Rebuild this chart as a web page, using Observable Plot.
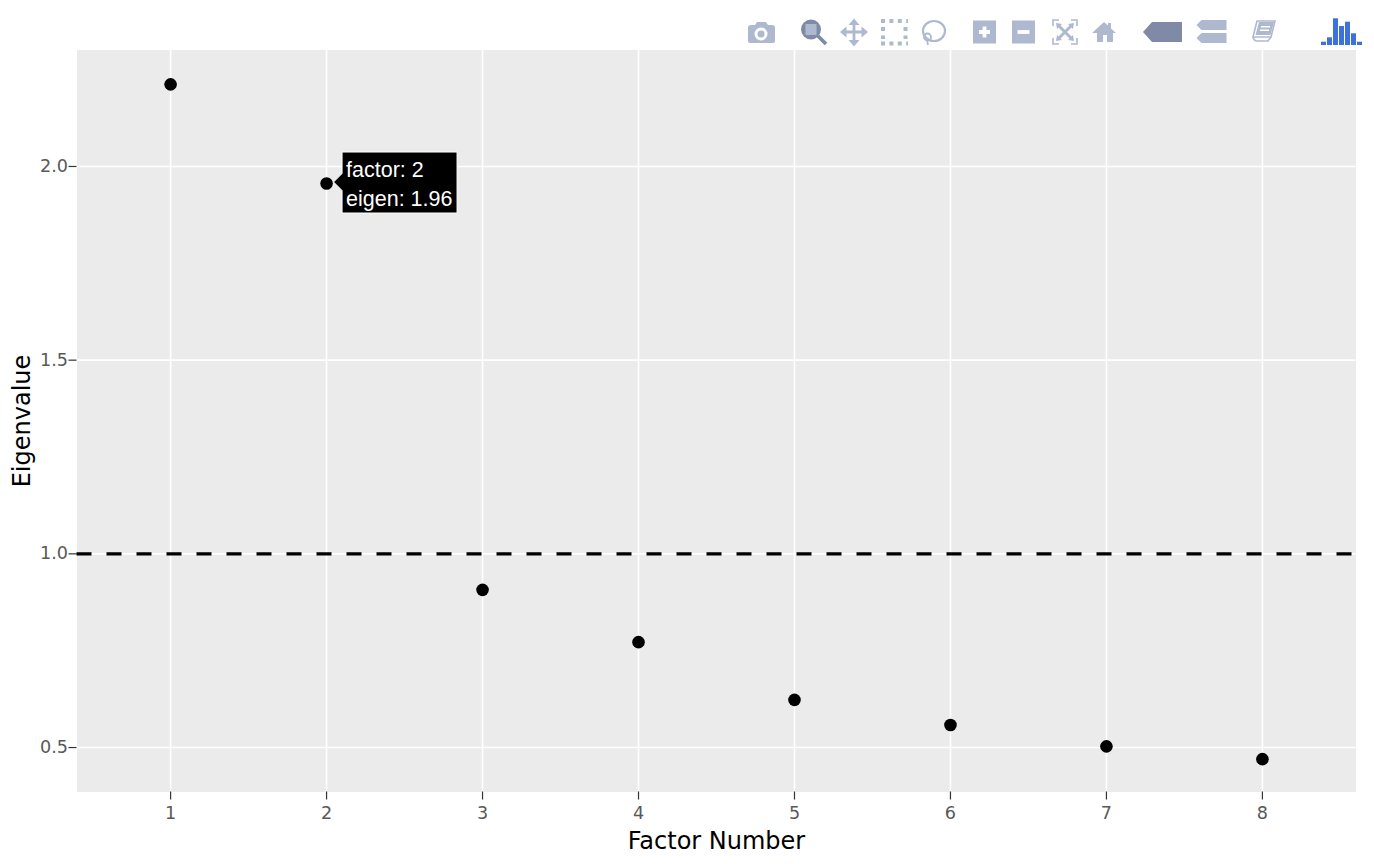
<!DOCTYPE html>
<html>
<head>
<meta charset="utf-8">
<script src="https://cdn.jsdelivr.net/npm/d3@7"></script>
<script src="https://cdn.jsdelivr.net/npm/@observablehq/plot@0.6"></script>
<style>
html,body{margin:0;padding:0;background:#fff;overflow:hidden}
#wrap{position:relative;width:1374px;height:864px}
#bar{position:absolute;left:0;top:0}
</style>
</head>
<body>
<div id="wrap"></div>
<script>
const factors = [1, 2, 3, 4, 5, 6, 7, 8];
const eigenvalues = [2.212, 1.956, 0.907, 0.772, 0.623, 0.558, 0.503, 0.47];
const yTicks = [0.5, 1.0, 1.5, 2.0];
const threshold = 1;
const xLabel = "Factor Number";
const yLabel = "Eigenvalue";
const hovered = 1;
const rows = factors.map((f, i) => ({factor: f, eigen: eigenvalues[i]}));

function tooltip(index, scales) {
  const g = d3.create("svg:g");
  const px = scales.x(rows[hovered].factor), py = scales.y(rows[hovered].eigen);
  g.append("path")
    .attr("d", `M${px + 16} ${py - 31}h115v61h-115v-22.500l-8.500 -8.500l8.500 -8.500z`)
    .attr("fill", "#000").attr("stroke", "#fff").attr("stroke-width", 1);
  const t = g.append("text").attr("fill", "#fff").attr("text-anchor", "start")
    .attr("font-family", "Liberation Sans, Arial, sans-serif").attr("font-size", 21.5);
  t.append("tspan").attr("x", px + 20).attr("y", py - 6.5).text(`factor: ${rows[hovered].factor}`);
  t.append("tspan").attr("x", px + 20).attr("y", py + 22.5).text(`eigen: ${rows[hovered].eigen.toFixed(2)}`);
  return g.node();
}

const chart = Plot.plot({
  width: 1374, height: 864,
  marginLeft: 76.5, marginRight: 18.5, marginTop: 49.5, marginBottom: 72.5,
  style: {background: "#fff", fontFamily: "DejaVu Sans, Verdana, sans-serif", overflow: "visible"},
  x: {domain: [0.4, 8.6], ticks: factors, label: null},
  y: {domain: [0.3852, 2.3007], ticks: yTicks, label: null},
  marks: [
    Plot.frame({fill: "#EBEBEB", stroke: null}),
    Plot.gridX(factors, {stroke: "#fff", strokeOpacity: 1, strokeWidth: 1.6}),
    Plot.gridY(yTicks, {stroke: "#fff", strokeOpacity: 1, strokeWidth: 1.6}),
    Plot.axisX(factors, {tickSize: 8, tickPadding: 6, stroke: "#333", strokeWidth: 1.2, fill: "#595959", fontSize: 17.6, tickFormat: d => d, label: null, marginBottom: 72.5}),
    Plot.axisY(yTicks, {tickSize: 8, tickPadding: 1, stroke: "#333", strokeWidth: 1.2, fill: "#595959", fontSize: 17.6, tickFormat: d => d.toFixed(1), label: null, marginLeft: 76.5}),
    Plot.ruleY([threshold], {stroke: "#000", strokeWidth: 3.2, strokeDasharray: "15,15"}),
    Plot.dot(rows, {x: "factor", y: "eigen", r: 6.3, fill: "#000", stroke: null}),
    tooltip
  ]
});
document.getElementById("wrap").appendChild(chart);

// axis titles
const svg = d3.select(chart);
svg.append("text").attr("x", 716.500).attr("y", 849).attr("text-anchor", "middle")
  .attr("font-family", "DejaVu Sans, Verdana, sans-serif").attr("font-size", 24).attr("fill", "#000").text(xLabel);
svg.append("text").attr("transform", "translate(30,421) rotate(-90)").attr("text-anchor", "middle")
  .attr("font-family", "DejaVu Sans, Verdana, sans-serif").attr("font-size", 24).attr("fill", "#000").text(yLabel);

// modebar chrome
const c = "#AEB9D0", a = "#7F8AA6", blue = "#3D72DB";
const logoHeights = [3.3, 7.7, 26.7, 19, 23.3, 11.7, 3.3];
const bars = logoHeights.map((h, i) => `<rect x="${1321 + i * 6}" y="${45 - h}" width="5" height="${h}" fill="${blue}"/>`).join("");
document.getElementById("wrap").insertAdjacentHTML("beforeend", `
<svg id="bar" width="1374" height="50" xmlns="http://www.w3.org/2000/svg">
<path fill="${c}" d="M748 28q0-3 3-3h4l2-3h9l2 3h4q3 0 3 3v13q0 2-3 2h-21q-3 0-3-2z"/><circle cx="761" cy="34" r="6.500" fill="#fff"/><circle cx="761" cy="34" r="3.500" fill="${c}"/>
<circle cx="811" cy="29.500" r="10" fill="${a}"/><rect x="805.500" y="24" width="11" height="11" fill="${c}"/><path d="M818 36l8 8" stroke="${a}" stroke-width="3.800"/>
<path fill="none" stroke="${c}" stroke-width="2.800" d="M842 32h24M854 21v23"/><path fill="${c}" d="M854 18.500l5.500 6.500h-11zM854 46.500l5.500-6.500h-11zM840 32l6.500-5.500v11zM868 32l-6.500-5.500v11z"/>
<path fill="none" stroke="${c}" stroke-width="4" stroke-dasharray="4,4.400" d="M881 21h27M881 43.500h27"/><path fill="none" stroke="${c}" stroke-width="4" stroke-dasharray="4,4.400" d="M883 27v12M905.500 27v12"/>
<ellipse cx="934" cy="31" rx="11" ry="10" fill="none" stroke="${c}" stroke-width="2.200"/><circle cx="927.500" cy="37" r="3.500" fill="none" stroke="${c}" stroke-width="1.800"/><path d="M927 40l1 5" stroke="${c}" stroke-width="1.800"/>
<rect x="973" y="20.500" width="23" height="23" fill="${c}"/><path d="M979 32h11M984.500 26.500v11" stroke="#fff" stroke-width="3.800"/>
<rect x="1012" y="20.500" width="23" height="23" fill="${c}"/><path d="M1017.500 32h12" stroke="#fff" stroke-width="3.800"/>
<path fill="none" stroke="${c}" stroke-width="1.600" d="M1053 26v-6h6M1071 20h6v6M1077 38v6h-6M1059 44h-6v-6"/><path fill="none" stroke="${c}" stroke-width="3" d="M1059 26l12 12M1071 26l-12 12"/><path fill="${c}" d="M1056 23l6 1-5 5zM1074 23l-6 1 5 5zM1056 41l6-1-5-5zM1074 41l-6-1 5-5z"/>
<path fill="${c}" d="M1092 33l12-11 4 3.500v-2.500h3v5.500l5 4.500h-3v9h-6v-7h-4v7h-6v-9z"/>
<path fill="${a}" d="M1143 32l9-10h30v20h-30z"/>
<path fill="${c}" d="M1196.500 25l5-5h25v10h-25zM1196.500 38l5-5h25v10h-25z"/>
<path fill="none" stroke="${c}" stroke-width="1.600" d="M1253 37l4-16h18l-4 16z"/><path fill="${c}" d="M1255.500 35l3.500-13h15l-3.500 13z"/><path fill="#fff" d="M1261 26h9v1.500h-9zM1260 29.500h9v1.500h-9z"/><path fill="none" stroke="${c}" stroke-width="1.600" d="M1253 37q1 4 4 4h11l3-4"/>
${bars}
</svg>`);
</script>
</body>
</html>
